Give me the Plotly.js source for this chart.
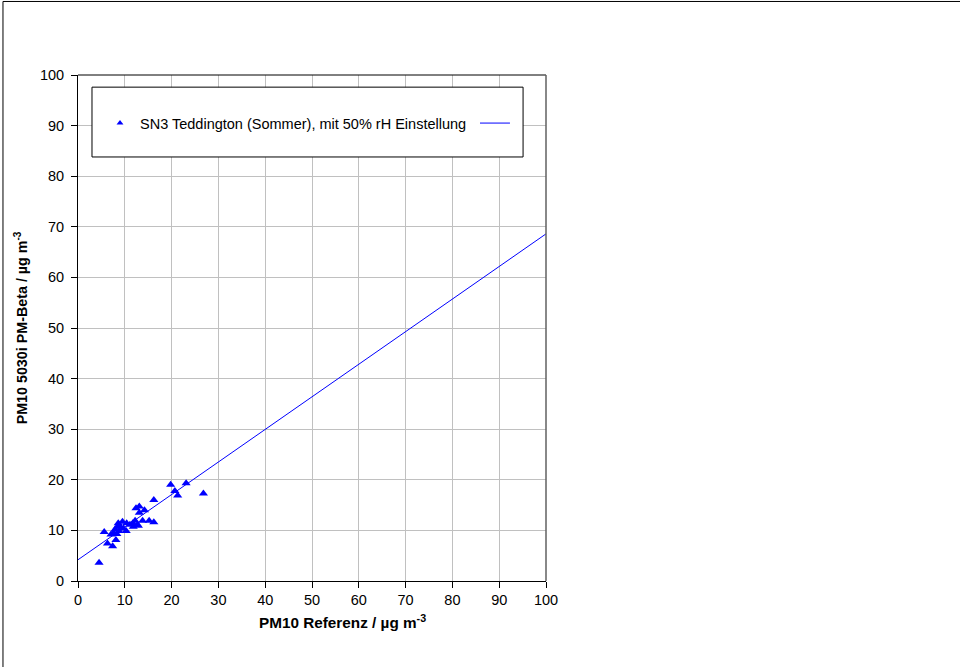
<!DOCTYPE html>
<html>
<head>
<meta charset="utf-8">
<script src="https://cdn.plot.ly/plotly-3.0.1.min.js"></script>
<style>html,body{margin:0;padding:0;background:#fff;}#chart{width:960px;height:667px;}</style>
</head>
<body>
<div id="chart"></div>
<script>
// Data
const refX = [4.5, 5.6, 6.3, 7.4, 7.05, 8.1, 7.9, 8.4, 8.8, 9.0, 8.3, 9.5, 10.3, 10.4, 11.1, 11.8, 12.2, 12.7, 12.4, 13.1, 13.1, 14.2, 13.8, 15.2, 16.2, 16.2, 19.8, 20.7, 21.3, 23.1, 26.8, 8.6, 9.7, 7.6, 11.7, 12.9];
const betaY = [3.6, 9.7, 7.4, 6.85, 9.2, 8.1, 10.2, 10.7, 9.9, 10.7, 9.3, 11.7, 9.9, 11.4, 11.1, 10.7, 11.9, 11.1, 14.4, 14.7, 13.5, 14.0, 11.9, 11.9, 11.6, 16.0, 19.0, 17.8, 16.9, 19.3, 17.3, 11.4, 10.4, 9.5, 11.4, 10.9];
const fitSlope = 0.644;
const fitIntercept = 4.2;
const fitX = [0, 100];
const fitY = fitX.map(x => fitSlope * x + fitIntercept);
const tickVals = [0, 10, 20, 30, 40, 50, 60, 70, 80, 90, 100];
const seriesName = 'SN3 Teddington (Sommer), mit 50% rH Einstellung';
const xTitle = '<b>PM10 Referenz / µg m<sup>-3</sup></b>';
const yTitle = '<b>PM10 5030i PM-Beta / µg m<sup>-3</sup></b>';

const traces = [
  {
    x: refX, y: betaY, type: 'scatter', mode: 'markers', name: seriesName,
    marker: {symbol: 'triangle-up', size: 8, color: '#0000ff'},
    showlegend: false, cliponaxis: false
  },
  {
    // legend entry only (small marker like the reference legend)
    x: [null], y: [null], type: 'scatter', mode: 'markers', name: seriesName,
    marker: {symbol: 'triangle-up', size: 6, color: '#0000ff'},
    showlegend: true
  },
  {
    x: fitX, y: fitY, type: 'scatter', mode: 'lines', name: 'fit',
    line: {color: '#0000ff', width: 1}, showlegend: false
  }
];

const layout = {
  width: 960, height: 667,
  margin: {l: 78, r: 414, t: 75, b: 86},
  paper_bgcolor: '#ffffff', plot_bgcolor: '#ffffff',
  font: {family: 'Arial, Liberation Sans, sans-serif', size: 14.5, color: '#000'},
  xaxis: {
    range: [0, 100], tickvals: tickVals, ticks: 'outside', ticklen: 6, tickcolor: '#000',
    showgrid: true, gridcolor: '#c0c0c0', gridwidth: 1, zeroline: false,
    showline: true, linecolor: '#000', linewidth: 1,
    tickfont: {size: 14.5}
  },
  yaxis: {
    range: [0, 100], tickvals: tickVals, ticks: 'outside', ticklen: 6, tickcolor: '#000',
    ticklabelstandoff: 4,
    showgrid: true, gridcolor: '#c0c0c0', gridwidth: 1, zeroline: false,
    showline: true, linecolor: '#000', linewidth: 1,
    tickfont: {size: 14.5},
    title: {text: yTitle, font: {size: 14.3}, standoff: 8}
  },
  annotations: [
    {text: xTitle, xref: 'paper', yref: 'paper', x: 0.566, y: -0.081,
     xanchor: 'center', yanchor: 'middle', showarrow: false, font: {size: 15.3}}
  ],
  showlegend: true,
  legend: {
    x: 0.047, y: 0.905, xanchor: 'left', yanchor: 'middle',
    bgcolor: 'rgba(0,0,0,0)', borderwidth: 0,
    font: {size: 14.5, color: '#000'}, itemsizing: 'trace'
  },
  shapes: [
    // plot-area top/right border
    {type: 'line', xref: 'paper', yref: 'paper', x0: 0, x1: 1, y0: 1, y1: 1, line: {color: '#000', width: 1}},
    {type: 'line', xref: 'paper', yref: 'paper', x0: 1, x1: 1, y0: 0, y1: 1, line: {color: '#606060', width: 1.5}},
    // legend box
    {type: 'rect', xref: 'paper', yref: 'paper', x0: 0.0299, x1: 0.951, y0: 0.838, y1: 0.976,
     line: {color: '#000', width: 1}, fillcolor: '#ffffff', layer: 'above'},
    // legend line sample
    {type: 'line', xref: 'paper', yref: 'paper', x0: 0.859, x1: 0.923, y0: 0.905, y1: 0.905,
     line: {color: '#0000ff', width: 1}, layer: 'above'},
    // outer chart frame (left and top)
    {type: 'line', xref: 'paper', yref: 'paper', x0: -0.1603, x1: -0.1603, y0: -0.2, y1: 1.1453, line: {color: '#000', width: 1}},
    {type: 'line', xref: 'paper', yref: 'paper', x0: -0.1603, x1: 1.9, y0: 1.1453, y1: 1.1453, line: {color: '#000', width: 1}}
  ]
};

Plotly.newPlot('chart', traces, layout, {displayModeBar: false, staticPlot: true});
</script>
</body>
</html>
